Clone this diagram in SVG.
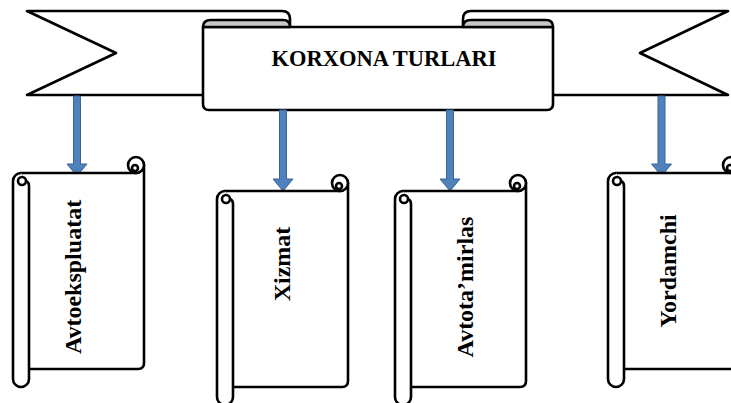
<svg xmlns="http://www.w3.org/2000/svg" width="731" height="403" viewBox="0 0 731 403">
<style>
.ol{fill:#fff;stroke:#000;stroke-width:2.6;stroke-linejoin:round}
.gr{fill:#c8c8c8;stroke:#000;stroke-width:2.6;stroke-linejoin:round}
.ar{fill:#4f81bd;stroke:#3a6396;stroke-width:1}
.t{font-family:"Liberation Serif","Times New Roman",serif;font-weight:bold;fill:#000}
.vt{font-size:24px;text-anchor:middle}
</style>
<defs>
<g id="scroll">
<path class="ol" d="M8,0 H123 A8 8 0 0 0 131,-8 V190 Q131,196 125,196 H8 Z"/>
<circle class="ol" cx="123" cy="-8" r="8"/>
<circle class="ol" cx="122" cy="-5" r="3"/>
<path class="ol" d="M13,8 Q16,9 16,13 V206 A8 8 0 0 1 0,206 V8 A8 8 0 0 1 8,0"/>
<circle class="ol" cx="9" cy="8" r="4"/>
</g>
</defs>
<g id="banner">
<path class="ol" d="M27,11 H282 Q290,11 290,19 V95 H27 L116,53 Z"/>
<path class="ol" d="M728,11 H471 Q463,11 463,19 V95 H728 L640,53 Z"/>
<path class="ol" d="M203,27 H553 V104 Q553,110 547,110 H209 Q203,110 203,104 Z"/>
<path class="gr" d="M203,27 Q203,20 211,20 H283 Q290,20 290,27 Z"/>
<path class="gr" d="M463,27 Q463,20 471,20 H546 Q553,20 553,27 Z"/>
<text class="t" x="384" y="66" font-size="22.5" text-anchor="middle">KORXONA TURLARI</text>
</g>
<g id="connectors">
<polygon class="ar" points="73.5,96 80.5,96 80.5,164 87,164 77,176 67,164 73.5,164"/>
<polygon class="ar" points="279.5,110 286.5,110 286.5,179 293,179 283,191 273,179 279.5,179"/>
<polygon class="ar" points="446.5,110 453.5,110 453.5,179 460,179 450,191 440,179 446.5,179"/>
<polygon class="ar" points="658,96 665,96 665,164 671.5,164 661.5,176 651.5,164 658,164"/>
</g>
<g id="node-avtoekspluatat">
<use href="#scroll" x="13" y="173"/>
<text class="t vt" transform="translate(81,277) rotate(-90)">Avtoekspluatat</text>
</g>
<g id="node-xizmat">
<use href="#scroll" x="217" y="191"/>
<text class="t vt" transform="translate(290,264) rotate(-90)">Xizmat</text>
</g>
<g id="node-avtotamirlas">
<use href="#scroll" x="395" y="191"/>
<text class="t vt" transform="translate(473,287) rotate(-90)">Avtota’mirlas</text>
</g>
<g id="node-yordamchi">
<use href="#scroll" x="608" y="173"/>
<text class="t vt" transform="translate(676,271) rotate(-90)">Yordamchi</text>
</g>
</svg>
